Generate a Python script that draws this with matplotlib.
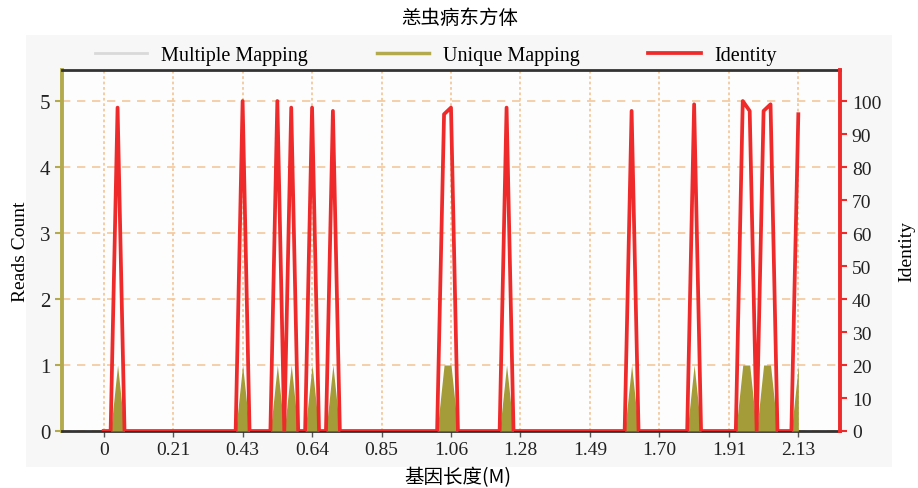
import numpy as np
import matplotlib
matplotlib.use("Agg")
import matplotlib.pyplot as plt
from matplotlib.patches import Rectangle

plt.rcParams["font.family"] = ["Liberation Serif", "Noto Sans CJK SC"]

# bins of 0.02127 M, 101 points (0 .. 2.127 M)
n_bins = 101
bin_size = 0.02127
peak_bins = [2, 20, 25, 27, 30, 33, 49, 50, 58, 76, 85, 92, 93, 95, 96, 100]
identity_vals = [98, 100, 100, 98, 98, 97, 96, 98, 98, 97, 99, 100, 97, 97, 99, 96]
unique_vals = [1, 1, 1, 1, 1, 1, 1, 1, 1, 1, 1, 1, 1, 1, 1, 1]
tick_labels = ["0", "0.21", "0.43", "0.64", "0.85", "1.06", "1.28", "1.49", "1.70", "1.91", "2.13"]

x = np.arange(n_bins) * bin_size
identity = np.zeros(n_bins)
identity[peak_bins] = identity_vals
unique = np.zeros(n_bins)
unique[peak_bins] = unique_vals
multiple = np.zeros(n_bins)

red = "#ee2a2a"
olive = "#b3aa4e"
olive_fill = "#a39c38"
grid_c = "#f4c89c"

fig = plt.figure(figsize=(9.18, 4.89), dpi=100)
bg = Rectangle((26 / 918, 1 - 468 / 489), (892 - 26) / 918, (468 - 36) / 489,
               transform=fig.transFigure, facecolor="#f7f7f7",
               edgecolor="none", zorder=-10)
fig.add_artist(bg)
ax = fig.add_axes([62 / 918, 1 - 432 / 489, (840 - 62) / 918, (432 - 71) / 489])
ax.set_facecolor("#fdfdfd")
ax2 = ax.twinx()

ax.plot(x, multiple, color="#d9d9d9", lw=2, label="Multiple Mapping", zorder=2)
ax.fill_between(x, 0, unique, color=olive_fill, lw=0, zorder=3)
l2, = ax.plot([], [], color=olive, lw=2.5, label="Unique Mapping")
l3, = ax2.plot(x, identity, color=red, lw=2.7, label="Identity", zorder=4)

xt = np.arange(11) * 10 * bin_size
ax.set_xlim(-6 * bin_size, 106 * bin_size)
ax.set_xticks(xt)
ax.set_xticklabels(tick_labels)
ax.set_ylim(0, 5.47)
ax.set_yticks(range(6))
ax2.set_ylim(0, 109.4)
ax2.set_yticks(range(0, 101, 10))

ax.grid(axis="y", color=grid_c, ls=(0, (5, 4)), lw=1.2)
ax.grid(axis="x", color=grid_c, ls=(0, (1.5, 1.5)), lw=1.3)
ax.set_axisbelow(True)

for s in ["top", "bottom"]:
    ax.spines[s].set_color("#333333")
    ax.spines[s].set_linewidth(2)
    ax2.spines[s].set_visible(False)
ax.spines["left"].set_color(olive)
ax.spines["left"].set_linewidth(2.8)
ax.spines["right"].set_visible(False)
ax2.spines["left"].set_visible(False)
ax2.spines["right"].set_color(red)
ax2.spines["right"].set_linewidth(2.8)

ax.tick_params(axis="y", colors=olive, labelcolor="#222222", labelsize=15, length=5, width=1.5)
ax.tick_params(axis="x", colors="#555555", labelcolor="#222222", labelsize=14, length=4, width=1)
ax2.tick_params(axis="y", colors=red, labelcolor="#222222", labelsize=14, length=5, width=1.5)

ax.set_ylabel("Reads Count", fontsize=14, labelpad=8)
ax2.set_ylabel("Identity", fontsize=14, labelpad=12)
fig.text(458 / 918, 1 - 478 / 489, "基因长度(M)", ha="center", va="center",
         fontsize=14, family=["Noto Sans CJK SC"])
fig.text(460 / 918, 1 - 18 / 489, "恙虫病东方体", ha="center", va="center",
         fontsize=14, family=["Noto Sans CJK SC"])

handles = [ax.lines[0], l2, l3]
fig.legend(handles, [h.get_label() for h in handles], loc="center",
           bbox_to_anchor=(436 / 918, 1 - 56 / 489), ncol=3, frameon=False,
           fontsize=14.5, handlelength=2.6, columnspacing=3.4, handletextpad=0.7)

fig.savefig("out.png", dpi=100)
